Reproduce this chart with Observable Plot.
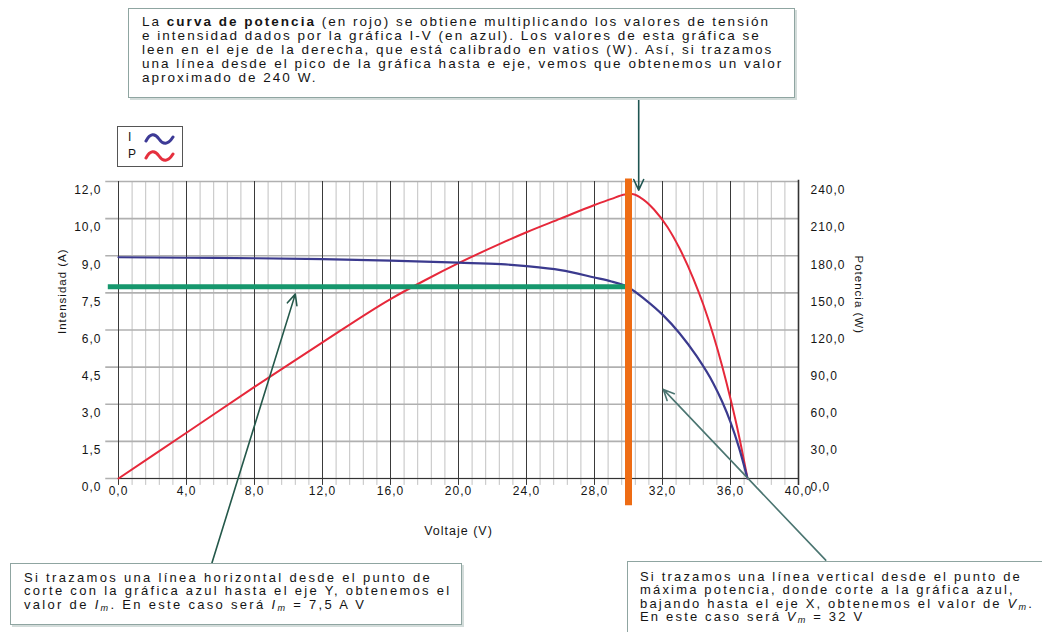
<!DOCTYPE html>
<html>
<head>
<meta charset="utf-8">
<script src="https://cdn.jsdelivr.net/npm/d3@7"></script>
<script src="https://cdn.jsdelivr.net/npm/@observablehq/plot@0.6"></script>
<style>
  html, body { margin: 0; padding: 0; background: #fff; }
  #wrap { position: relative; width: 1042px; height: 632px; overflow: hidden; font-family: "Liberation Sans", Arial, sans-serif; color: #141414; }
  #chart { position: absolute; left: 0; top: 0; }
  #chart svg text { letter-spacing: 1px; }
  .box { position: absolute; background: #fff; border: 1px solid #8fa5a1; box-shadow: 2px 2px 0 #d3dcda; box-sizing: border-box; }
  .ln { white-space: nowrap; }
  .ln span { display: inline-block; }
  sub { font-size: 70%; vertical-align: -2px; line-height: 0; font-style: italic; }
  #legend { position: absolute; left: 117px; top: 126px; width: 66px; height: 41px; border: 1px solid #555; box-sizing: border-box; background: #fff; font-size: 12px; }
  #legend .row { position: absolute; left: 10px; height: 14px; }
</style>
</head>
<body>
<div id="wrap">
  <div id="chart"></div>

  <div class="box" id="boxTop" style="left:128px; top:8px; width:667px; height:90px; padding:6px 0 0 13px; font-size:13.5px; line-height:14px;">
    <div class="ln"><span>La <b>curva de potencia</b> (en rojo) se obtiene multiplicando los valores de tensión</span></div>
    <div class="ln"><span>e intensidad dados por la gráfica I-V (en azul). Los valores de esta gráfica se</span></div>
    <div class="ln"><span>leen en el eje de la derecha, que está calibrado en vatios (W). Así, si trazamos</span></div>
    <div class="ln"><span>una línea desde el pico de la gráfica hasta e eje, vemos que obtenemos un valor</span></div>
    <div class="ln"><span>aproximado de 240 W.</span></div>
  </div>

  <div class="box" id="boxLeft" style="left:10px; top:563px; width:452px; height:62px; padding:7px 0 0 13px; font-size:13px; line-height:13.4px;">
    <div class="ln"><span>Si trazamos una línea horizontal desde el punto de</span></div>
    <div class="ln"><span>corte con la gráfica azul hasta el eje Y, obtenemos el</span></div>
    <div class="ln"><span>valor de <i>I</i><sub>m</sub>. En este caso será <i>I</i><sub>m</sub> = 7,5 A V</span></div>
  </div>

  <div class="box" id="boxRight" style="left:627px; top:561px; width:430px; height:80px; padding:8px 0 0 12px; font-size:13px; line-height:13.4px;">
    <div class="ln"><span>Si trazamos una línea vertical desde el punto de</span></div>
    <div class="ln"><span>máxima potencia, donde corte a la gráfica azul,</span></div>
    <div class="ln"><span>bajando hasta el eje X, obtenemos el valor de <i>V</i><sub>m</sub>.</span></div>
    <div class="ln"><span>En este caso será <i>V</i><sub>m</sub> = 32 V</span></div>
  </div>

  <div id="legend">
    <div class="row" style="top:3px;">I</div>
    <div class="row" style="top:20px;">P</div>
    <svg style="position:absolute;left:26px;top:4px" width="32" height="34">
      <path d="M2,10 C6,2 11,2 15,8 S24,14 29,6" fill="none" stroke="#3d3a96" stroke-width="3" stroke-linecap="round"/>
      <path d="M2,27 C6,19 11,19 15,25 S24,31 29,23" fill="none" stroke="#e5303e" stroke-width="3" stroke-linecap="round"/>
    </svg>
  </div>
</div>

<script>
// ---- Data ----
// I-V curve (blue): voltage (V) and current (A)
const ivVoltage = [0, 4, 8, 12, 16, 20, 22.5, 24, 26, 28, 29, 30, 31, 32, 33, 34, 35, 35.5, 36, 36.5, 37];
const ivCurrent = [8.94, 8.92, 8.9, 8.86, 8.8, 8.72, 8.66, 8.58, 8.42, 8.12, 7.96, 7.72, 7.22, 6.62, 5.87, 4.95, 3.83, 3.12, 2.28, 1.25, 0];

// Power curve (red): voltage (V) and power (W)
const pvVoltage = [0, 4, 8, 12, 16, 18, 20, 22.5, 24, 26, 28, 29, 29.8, 30.2, 30.7, 31.5, 32.3, 33, 33.8, 34.4, 35, 35.5, 36, 36.5, 37];
const pvPower   = [0, 37, 74, 110, 145, 160, 174, 190, 199, 210, 221, 226, 229.5, 229.8, 227, 217.4, 203, 186, 162, 140.6, 115.4, 91.4, 64.4, 34.4, 0];

// Maximum-power point lines as drawn
const vMax = 30;     // vertical orange line (V)
const iMax = 7.75;   // horizontal green line (A)

// Axis ticks and labels
const xTicks  = [0, 4, 8, 12, 16, 20, 24, 28, 32, 36, 40];
const xLabels = ["0,0", "4,0", "8,0", "12,0", "16,0", "20,0", "24,0", "28,0", "32,0", "36,0", "40,0"];
const yTicks  = [0, 1.5, 3, 4.5, 6, 7.5, 9, 10.5, 12];
const yLabels = ["0,0", "1,5", "3,0", "4,5", "6,0", "7,5", "9,0", "10,0", "12,0"];
const pLabels = ["0,0", "30,0", "60,0", "90,0", "120,0", "150,0", "180,0", "210,0", "240,0"];
const wattsPerAmp = 20; // right axis: 240 W at the 12 A line

// Annotation arrows (in data units: V, A)
const arrows = [
  {x1: 30.6, y1: 15.35, x2: 30.6, y2: 11.65, color: "#1f5551"},
  {x1: 5.5, y1: -3.4, x2: 10.4, y2: 7.45, color: "#24584a"},
  {x1: 41.6, y1: -3.3, x2: 32.05, y2: 3.6, color: "#4b7571"}
];

// ---- Build ----
const ivData = ivVoltage.map((v, i) => ({v, i: ivCurrent[i]}));
const pvData = pvVoltage.map((v, i) => ({v, p: pvPower[i]}));
const minorX = d3.range(51).map(k => +(k * 0.8).toFixed(1)).filter(v => !xTicks.includes(v));
const xLab = new Map(xTicks.map((t, i) => [t, xLabels[i]]));
const yLab = new Map(yTicks.map((t, i) => [t, yLabels[i]]));
const pLab = new Map(yTicks.map((t, i) => [t, pLabels[i]]));

const chart = Plot.plot({
  width: 1042,
  height: 632,
  marginLeft: 118,
  marginRight: 244,
  marginTop: 181,
  marginBottom: 154,
  style: {fontFamily: "Liberation Sans, Arial, sans-serif", fontSize: "12px", background: "transparent", color: "#141414"},
  x: {domain: [0, 40]},
  y: {domain: [0, 12]},
  marks: [
    // grid
    Plot.ruleX(minorX, {y1: -0.28, y2: 12, stroke: "#c2c2c2", strokeWidth: 1}),
    Plot.ruleY(yTicks, {x1: -0.75, x2: 40, stroke: "#b0b0b0", strokeWidth: 1.6}),
    Plot.ruleX(xTicks.filter(t => t < 40), {y1: -0.28, y2: 12, stroke: "#3a3a3a", strokeWidth: 1}),
    Plot.ruleX([40], {y1: -0.28, y2: 12.05, stroke: "#333", strokeWidth: 1.6}),
    Plot.ruleY([0], {x1: 0, x2: 40, stroke: "#333", strokeWidth: 1.2}),
    // curves
    Plot.line(pvData, {x: "v", y: d => d.p / wattsPerAmp, stroke: "#e6283a", strokeWidth: 2, curve: "monotone-x"}),
    Plot.line(ivData, {x: "v", y: "i", stroke: "#3b3a8e", strokeWidth: 2.2, curve: "monotone-x"}),
    // maximum power lines
    Plot.ruleY([iMax], {x1: -0.6, x2: vMax, stroke: "#16976d", strokeWidth: 5}),
    Plot.ruleX([vMax], {y1: -1.1, y2: 12.1, stroke: "#ee6c14", strokeWidth: 7}),
    // annotation arrows
    Plot.arrow(arrows, {x1: "x1", y1: "y1", x2: "x2", y2: "y2", stroke: "color", strokeWidth: 1.6, headLength: 11, headAngle: 50}),
    // axes
    Plot.axisX(xTicks, {anchor: "bottom", tickSize: 0, tickPadding: 8, tickFormat: d => xLab.get(d), label: null, fill: "#141414"}),
    Plot.axisY(yTicks, {anchor: "left", tickSize: 0, tickPadding: 17, dy: 9, tickFormat: d => yLab.get(d), label: null, fill: "#141414"}),
    Plot.axisY(yTicks, {anchor: "right", tickSize: 0, tickPadding: 12, dy: 9, tickFormat: d => pLab.get(d), label: null, fill: "#141414"}),
    // axis titles
    Plot.text(["Intensidad (A)"], {frameAnchor: "left", dx: -56, dy: 4, rotate: -90, fontSize: 11.5, fill: "#141414"}),
    Plot.text(["Potencia (W)"], {frameAnchor: "right", dx: 60, dy: 4, rotate: 90, fontSize: 11.5, fill: "#141414"}),
    Plot.text(["Voltaje (V)"], {frameAnchor: "bottom", dy: 56, fontSize: 12.5, fill: "#141414"})
  ]
});
document.getElementById("chart").appendChild(chart);

// Fit letter-spacing of annotation text so the first line spans the reference width
function fit(id, target) {
  const box = document.getElementById(id);
  const span = box.querySelector(".ln span");
  box.style.letterSpacing = "0px";
  const w = span.getBoundingClientRect().width;
  const n = span.textContent.length;
  box.style.letterSpacing = ((target - w) / n) + "px";
}
fit("boxTop", 628);
fit("boxLeft", 408);
fit("boxRight", 382);
</script>
</body>
</html>
